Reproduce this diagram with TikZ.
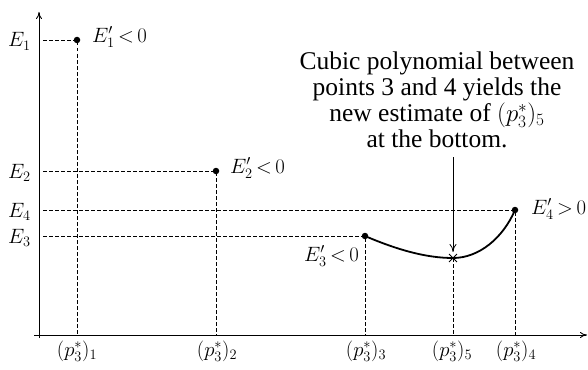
\documentclass[tikz,border=0pt]{standalone}
\usepackage{fontspec}
\setmainfont{Liberation Serif}
\usetikzlibrary{arrows.meta,shapes.misc}
\newcommand{\rel}[1]{\mkern3mu{#1}\mkern3mu}
\begin{document}
\begin{tikzpicture}[x=1pt,y=-1pt,
  axisline/.style={line width=0.9pt,-{To[length=7pt,width=6pt]}},
  guide/.style={line width=0.9pt,dash pattern=on 3.5pt off 2.5pt},
  dot/.style={circle,fill=black,inner sep=0pt,minimum size=6.5pt},
  lab/.style={font=\fontsize{20}{24}\selectfont,inner sep=0pt},
  xlab/.style={font=\fontsize{22}{26}\selectfont,inner sep=0pt,anchor=base},
  note/.style={font=\fontsize{25.5}{26}\selectfont,inner sep=0pt,anchor=base},
  curveline/.style={line width=1.8pt},
  pointer/.style={line width=0.8pt,-{To[length=8pt,width=7pt]}},
  mark5/.style={cross out,draw,line width=0.9pt,minimum size=7pt,inner sep=0pt}]
\useasboundingbox (0,0) rectangle (588,369);
% axes
\coordinate (o) at (39,335);
\coordinate (ybot) at (39,338);
\coordinate (ytop) at (39,12);
\coordinate (xl) at (34,335);
\coordinate (xr) at (587,335);
\draw[axisline] (ybot) -- (ytop);
\draw[axisline] (xl) -- (xr);
% points
\coordinate (p1) at (77,40);
\coordinate (p2) at (216,171);
\coordinate (p3) at (365,236);
\coordinate (p4) at (515,210);
\coordinate (p5) at (453,258);
% guides
\draw[guide] ([xshift=4pt]p1 -| o) -- (p1) -- (p1 |- o);
\draw[guide] ([xshift=4pt]p2 -| o) -- (p2) -- (p2 |- o);
\draw[guide] ([xshift=4pt]p3 -| o) -- (p3) -- (p3 |- o);
\draw[guide] ([xshift=4pt]p4 -| o) -- (p4) -- (p4 |- o);
\draw[guide] (p5) -- (p5 |- o);
% curve
\draw[curveline] (p3) .. controls (400,251) and (428,258) .. (p5)
  .. controls (479,258) and (503,238) .. (p4);
\node[mark5] (x5) at (p5) {};
\node[dot] (d1) at (p1) {};
\node[dot] (d2) at (p2) {};
\node[dot] (d3) at (p3) {};
\node[dot] (d4) at (p4) {};
% axis labels
\node[lab,anchor=base west] (e1) at (8,47) {$E_1$};
\node[lab,anchor=base west] (e2) at (8,178) {$E_2$};
\node[lab,anchor=base west] (e4) at (8,217) {$E_4$};
\node[lab,anchor=base west] (e3) at (8,243) {$E_3$};
\node[xlab] (q1) at (77,356) {$(p_3^*)_1$};
\node[xlab] (q2) at (217,356) {$(p_3^*)_2$};
\node[xlab] (q3) at (366,356) {$(p_3^*)_3$};
\node[xlab] (q5) at (452,356) {$(p_3^*)_5$};
\node[xlab] (q4) at (516,356) {$(p_3^*)_4$};
% point labels
\node[lab,anchor=base west] (l1) at (92,42) {$E_1'\rel{<}0$};
\node[lab,anchor=base west] (l2) at (230,173) {$E_2'\rel{<}0$};
\node[lab,anchor=base west] (l4) at (531,214) {$E_4'\rel{>}0$};
\node[lab,anchor=base east] (l3) at (359,261) {$E_3'\rel{<}0$};
% note
\node[note] (t) at (437,69) {\begin{tabular}[t]{@{}c@{}}
Cubic polynomial between\\
points 3 and 4 yields the\\
new estimate of $(p_3^*)_5$\\
at the bottom.\end{tabular}};
\coordinate (atop) at (453,157);
\coordinate (abot) at (453,252);
\draw[pointer] (atop) -- (abot);
\end{tikzpicture}
\end{document}
